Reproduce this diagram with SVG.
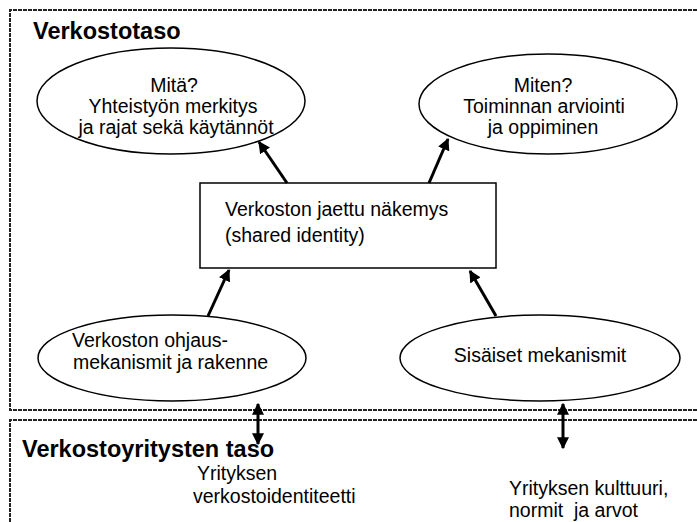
<svg xmlns="http://www.w3.org/2000/svg" width="697" height="522" viewBox="0 0 697 522">
  <style>
    .frame { fill: none; stroke: #222; stroke-width: 2; stroke-dasharray: 4 1; }
    .node { fill: #fff; stroke: #000; stroke-width: 1.5; }
    .txt { font-family: "Liberation Sans", Arial, sans-serif; font-size: 19.5px; fill: #000; }
    .mid { text-anchor: middle; }
    .head { font-family: "Liberation Sans", Arial, sans-serif; font-size: 23.5px; font-weight: bold; fill: #000; }
    .conn { stroke: #000; stroke-width: 3; fill: none; }
  </style>
  <defs>
    <marker id="arrow" viewBox="0 0 10 10" refX="9" refY="5" markerWidth="4" markerHeight="4" markerUnits="strokeWidth" orient="auto-start-reverse">
      <path d="M0,0 L10,5 L0,10 z" fill="#000"/>
    </marker>
  </defs>

  <!-- level frames -->
  <g id="verkostotaso">
    <path class="frame" d="M697,10 H10 V410 H697"/>
    <text class="head" x="33" y="39">Verkostotaso</text>
  </g>
  <g id="verkostoyritysten-taso">
    <path class="frame" d="M697,420 H10 V522"/>
    <text class="head" x="22" y="457">Verkostoyritysten taso</text>
  </g>

  <!-- nodes -->
  <g id="mita">
    <ellipse class="node" cx="171" cy="101" rx="134" ry="53"/>
    <text class="txt mid" x="174" y="92">Mitä?</text>
    <text class="txt mid" x="173" y="113">Yhteistyön merkitys</text>
    <text class="txt mid" x="176" y="134">ja rajat sekä käytännöt</text>
  </g>
  <g id="miten">
    <ellipse class="node" cx="548" cy="104" rx="129" ry="50"/>
    <text class="txt mid" x="543" y="92">Miten?</text>
    <text class="txt mid" x="544" y="113">Toiminnan arviointi</text>
    <text class="txt mid" x="543" y="134">ja oppiminen</text>
  </g>
  <g id="jaettu-nakemys">
    <rect class="node" x="200" y="183" width="296" height="85"/>
    <text class="txt" x="225" y="216">Verkoston jaettu näkemys</text>
    <text class="txt" x="225" y="242">(shared identity)</text>
  </g>
  <g id="ohjausmekanismit">
    <ellipse class="node" cx="172" cy="358" rx="134" ry="43"/>
    <text class="txt" x="72" y="347">Verkoston ohjaus-</text>
    <text class="txt" x="73" y="369">mekanismit ja rakenne</text>
  </g>
  <g id="sisaiset-mekanismit">
    <ellipse class="node" cx="540" cy="358" rx="140" ry="43"/>
    <text class="txt mid" x="540" y="362">Sisäiset mekanismit</text>
  </g>
  <g id="yrityksen-identiteetti">
    <text class="txt" x="197" y="480">Yrityksen</text>
    <text class="txt" x="193" y="503">verkostoidentiteetti</text>
  </g>
  <g id="yrityksen-kulttuuri">
    <text class="txt" x="509" y="495">Yrityksen kulttuuri,</text>
    <text class="txt" x="509" y="517" xml:space="preserve">normit  ja arvot</text>
  </g>

  <!-- connectors -->
  <g id="connectors">
    <line class="conn" x1="287" y1="183" x2="259" y2="142" marker-end="url(#arrow)"/>
    <line class="conn" x1="429" y1="183" x2="448" y2="139" marker-end="url(#arrow)"/>
    <line class="conn" x1="208" y1="316" x2="229" y2="270" marker-end="url(#arrow)"/>
    <line class="conn" x1="496" y1="316" x2="470" y2="271" marker-end="url(#arrow)"/>
    <line class="conn" x1="258" y1="404" x2="258" y2="444" marker-start="url(#arrow)" marker-end="url(#arrow)"/>
    <line class="conn" x1="563" y1="404" x2="563" y2="448" marker-start="url(#arrow)" marker-end="url(#arrow)"/>
  </g>
</svg>
